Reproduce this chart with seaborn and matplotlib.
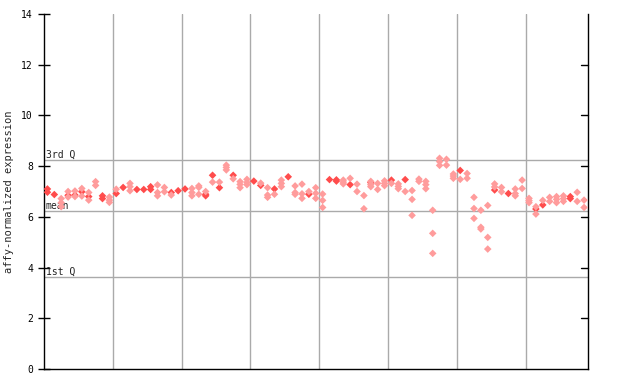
import numpy as np
import pandas as pd
import matplotlib
matplotlib.use("Agg")
import matplotlib.pyplot as plt
import seaborn as sns

# per-column values: solid markers and dithered (lighter) markers
solid = [
    [7.1, 6.97], [6.88], [], [6.85], [6.86], [6.99], [6.8], [], [6.83, 6.72], [],
    [6.92], [7.16], [], [7.08], [7.08], [7.19, 7.08], [], [], [6.96], [7.03],
    [7.1], [], [], [6.89, 6.83], [7.64], [7.15], [], [7.64], [], [],
    [7.41], [7.24], [], [7.1], [], [7.58], [], [], [6.89], [],
    [], [7.47], [7.46, 7.41], [], [7.27], [], [], [7.35], [], [],
    [7.45], [], [7.47], [], [], [], [], [], [], [],
    [7.83], [], [], [], [], [7.06], [], [6.92], [], [],
    [], [6.31], [6.47], [], [], [], [6.8, 6.72], [], [],
]
light = [
    [], [], [6.72, 6.56, 6.4], [7.0, 6.78], [7.02, 6.8], [7.12, 6.82], [6.96, 6.66], [7.39, 7.24], [], [6.78, 6.66, 6.57],
    [7.09], [], [7.32, 7.19, 7.03], [], [], [], [7.26, 6.96, 6.83], [7.16, 6.99], [6.86], [],
    [], [7.12, 6.96, 6.83], [7.22, 7.16, 6.89], [7.0], [7.37], [7.37], [8.04, 7.95, 7.85], [7.5], [7.39, 7.28, 7.15], [7.48, 7.36, 7.27],
    [], [7.33], [7.15, 6.86, 6.77], [6.89], [7.45, 7.32, 7.19], [], [7.22, 6.96, 6.89], [7.29, 6.91, 6.73], [7.0], [7.15, 6.93, 6.73],
    [6.9, 6.65, 6.37], [], [], [7.45, 7.37, 7.3], [7.52], [7.29, 7.0], [6.84, 6.32], [7.4, 7.27, 7.19], [7.32, 7.08], [7.42, 7.32, 7.23],
    [7.32], [7.3, 7.2, 7.11], [7.0], [7.04, 6.69, 6.06], [7.49, 7.4], [7.4, 7.27, 7.11], [6.26, 5.35, 4.56], [8.31, 8.18, 8.03], [8.27, 8.04], [7.69, 7.61, 7.52],
    [7.48], [7.71, 7.52], [6.77, 6.33, 5.94], [6.26, 5.59, 5.52], [6.45, 5.19, 4.73], [7.3, 7.18], [7.16, 6.99], [], [7.1, 6.92, 6.83], [7.45, 7.12],
    [6.73, 6.64, 6.56], [6.4, 6.11], [6.65], [6.77, 6.61], [6.8, 6.69, 6.56], [6.83, 6.72, 6.61], [], [6.97, 6.61], [6.66, 6.37],
]
q_lines = [8.24, 6.23, 3.63]
q_labels = ["3rd Q", "mean", "1st Q"]

rows = []
for i, (s, l) in enumerate(zip(solid, light)):
    rows += [(i, v, "solid") for v in s]
    rows += [(i, v, "light") for v in l]
df = pd.DataFrame(rows, columns=["col", "value", "kind"])

sns.set_style("white")
plt.rcParams['font.family'] = ['DejaVu Sans Mono', 'DejaVu Sans']

fig = plt.figure(figsize=(6.4, 3.84), dpi=100)
ax = fig.add_axes([44 / 640, 15 / 384, 543.5 / 640, 355 / 384])

# vertical separators between groups of 10 columns
for xv in np.arange(9.5, 70, 10):
    ax.axvline(xv, color="#aaaaaa", lw=1, zorder=0)
for yv, lab in zip(q_lines, q_labels):
    ax.axhline(yv, color="#aaaaaa", lw=1, zorder=0)
    ax.text(0.003, yv, lab, transform=ax.get_yaxis_transform(), fontsize=7,
            va="bottom", ha="left", color="#222222")

sns.scatterplot(data=df, x="col", y="value", hue="kind",
                palette={"solid": "#ff4c4c", "light": "#ff9c9c"},
                hue_order=["light", "solid"],
                marker="D", s=15, linewidth=0, legend=False, ax=ax, zorder=3)

ax.set_xlim(-0.5, 78.5)
ax.set_ylim(0, 14)
ax.set_yticks(range(0, 15, 2))
ax.set_xticks([])
ax.set_xlabel("")
ax.set_ylabel("affy-normalized expression", fontsize=7.5, labelpad=5)
ax.tick_params(axis="y", direction="inout", length=9, width=1, labelsize=7,
               left=True, right=False, colors="black")
for side in ["left", "bottom", "right"]:
    ax.spines[side].set_color("black")
    ax.spines[side].set_linewidth(1)
ax.spines["top"].set_visible(False)
# inward ticks on the right axis
for yv in range(2, 14, 2):
    ax.plot([78.5 - 0.9, 78.5], [yv, yv], color="black", lw=1, clip_on=False)

fig.savefig("out.png", dpi=100)
